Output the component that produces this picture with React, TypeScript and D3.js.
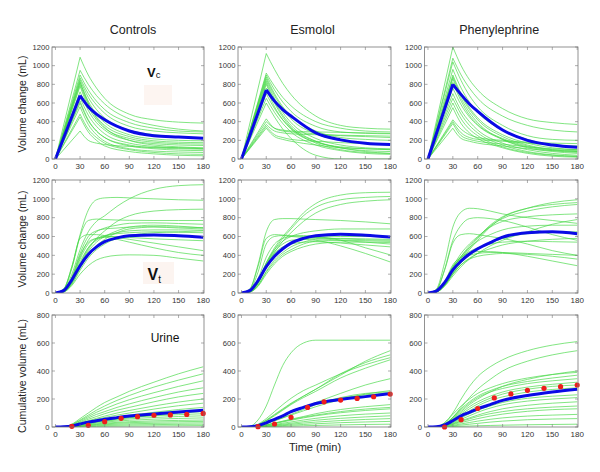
import React from "react";
import * as d3 from "d3";

// ---------- time grids ----------
const T_VC = [0, 30, 40, 50, 60, 90, 120, 150, 180];
const T_S = [0, 10, 20, 30, 40, 50, 60, 75, 90, 120, 150, 180];
const URINE_T = [20, 40, 60, 80, 100, 120, 140, 160, 180];

const COL_TITLES = ["Controls", "Esmolol", "Phenylephrine"];
const X_TICKS = [0, 30, 60, 90, 120, 150, 180];
const Y_TICKS_V = [0, 200, 400, 600, 800, 1000, 1200];
const Y_TICKS_U = [0, 200, 400, 600, 800];

// ---------- Row 1: Vc ----------
const ctrlVcMean = [0, 680, 560, 480, 420, 300, 250, 235, 222];
const ctrlVc = [
  [0, 1090, 900, 760, 650, 480, 420, 395, 385],
  [0, 950, 800, 680, 590, 430, 360, 320, 300],
  [0, 900, 740, 620, 530, 390, 330, 300, 290],
  [0, 870, 700, 580, 490, 350, 300, 280, 270],
  [0, 850, 660, 530, 440, 310, 260, 235, 225],
  [0, 820, 620, 480, 390, 260, 215, 200, 195],
  [0, 800, 590, 450, 360, 240, 195, 180, 175],
  [0, 780, 560, 420, 330, 220, 180, 165, 160],
  [0, 720, 520, 390, 310, 200, 165, 150, 145],
  [0, 660, 470, 350, 270, 170, 135, 120, 110],
  [0, 600, 410, 300, 230, 140, 110, 95, 90],
  [0, 560, 370, 260, 190, 110, 85, 75, 70],
  [0, 480, 320, 230, 170, 100, 70, 55, 50],
  [0, 450, 290, 200, 140, 80, 55, 40, 35],
  [0, 300, 200, 170, 155, 135, 125, 120, 115],
  [0, 620, 420, 300, 230, 150, 120, 110, 105],
  [0, 830, 600, 440, 340, 200, 150, 130, 120],
];
const esmoVcMean = [0, 740, 620, 530, 460, 280, 205, 170, 155];
const esmoVc = [
  [0, 1130, 960, 810, 690, 460, 360, 330, 320],
  [0, 920, 780, 660, 570, 400, 330, 300, 290],
  [0, 900, 740, 610, 510, 350, 290, 275, 270],
  [0, 880, 700, 560, 460, 300, 230, 210, 200],
  [0, 860, 680, 540, 430, 270, 200, 170, 160],
  [0, 840, 650, 500, 390, 220, 150, 120, 110],
  [0, 820, 620, 470, 360, 190, 120, 90, 80],
  [0, 800, 600, 450, 340, 170, 100, 70, 60],
  [0, 700, 540, 420, 330, 190, 120, 80, 60],
  [0, 650, 500, 380, 290, 150, 90, 60, 50],
  [0, 600, 450, 320, 220, 40, 0, 0, 0],
  [0, 430, 330, 300, 290, 270, 250, 240, 230],
  [0, 400, 330, 310, 300, 290, 285, 280, 275],
  [0, 370, 300, 280, 270, 260, 255, 250, 245],
  [0, 350, 260, 230, 210, 190, 175, 165, 160],
  [0, 330, 240, 210, 190, 150, 120, 110, 100],
  [0, 760, 560, 420, 320, 180, 130, 110, 100],
];
const pheVcMean = [0, 800, 690, 590, 510, 310, 200, 150, 125];
const pheVc = [
  [0, 1200, 1000, 850, 740, 540, 430, 390, 370],
  [0, 1080, 900, 760, 650, 460, 360, 310, 290],
  [0, 1040, 840, 680, 560, 360, 250, 210, 200],
  [0, 960, 760, 610, 500, 310, 210, 150, 130],
  [0, 900, 700, 550, 440, 260, 170, 120, 100],
  [0, 880, 680, 530, 420, 240, 150, 100, 80],
  [0, 860, 650, 500, 390, 210, 120, 80, 60],
  [0, 760, 580, 450, 360, 210, 130, 90, 70],
  [0, 700, 520, 400, 310, 170, 100, 60, 40],
  [0, 650, 480, 360, 280, 150, 80, 45, 30],
  [0, 600, 430, 320, 250, 130, 70, 40, 25],
  [0, 550, 380, 280, 220, 120, 60, 30, 20],
  [0, 420, 320, 260, 230, 200, 180, 170, 165],
  [0, 400, 280, 230, 210, 190, 170, 150, 140],
  [0, 380, 250, 210, 190, 160, 130, 110, 100],
  [0, 330, 220, 190, 170, 140, 110, 90, 80],
  [0, 820, 620, 470, 370, 220, 140, 100, 90],
];

// ---------- Row 2: Vt ----------
const ctrlVtMean = [0, 25, 140, 290, 410, 490, 545, 585, 607, 617, 608, 593];
const ctrlVt = [
  [0, 40, 280, 620, 880, 990, 1010, 1015, 1010, 1000, 990, 985],
  [0, 30, 200, 460, 650, 760, 820, 920, 1000, 1100, 1140, 1150],
  [0, 40, 260, 600, 770, 785, 780, 775, 772, 770, 770, 770],
  [0, 40, 280, 580, 620, 620, 610, 590, 570, 530, 490, 450],
  [0, 20, 120, 300, 460, 580, 660, 760, 820, 870, 885, 890],
  [0, 20, 150, 380, 560, 650, 690, 720, 740, 745, 738, 730],
  [0, 25, 170, 420, 600, 660, 680, 690, 700, 705, 700, 695],
  [0, 15, 110, 290, 440, 540, 600, 660, 700, 720, 710, 690],
  [0, 15, 100, 260, 400, 500, 570, 640, 680, 700, 690, 680],
  [0, 15, 110, 300, 480, 570, 610, 630, 640, 650, 645, 640],
  [0, 20, 140, 360, 520, 580, 600, 600, 590, 575, 565, 555],
  [0, 20, 160, 400, 540, 580, 590, 570, 540, 480, 430, 400],
  [0, 10, 80, 200, 290, 350, 380, 400, 405, 400, 370, 340],
  [0, 10, 90, 240, 370, 460, 520, 580, 610, 640, 650, 660],
  [0, 20, 130, 330, 480, 560, 600, 640, 660, 670, 670, 665],
];
const esmoVtMean = [0, 25, 130, 280, 390, 470, 530, 580, 607, 625, 614, 595];
const esmoVt = [
  [0, 15, 120, 320, 480, 600, 700, 850, 950, 1040, 1065, 1070],
  [0, 15, 110, 300, 460, 580, 680, 820, 910, 990, 1015, 1025],
  [0, 10, 100, 280, 430, 550, 640, 760, 850, 940, 975, 990],
  [0, 40, 300, 650, 780, 790, 790, 785, 780, 770, 755, 735],
  [0, 40, 280, 580, 620, 615, 610, 600, 590, 575, 565, 560],
  [0, 30, 220, 520, 600, 610, 600, 590, 580, 560, 540, 520],
  [0, 20, 150, 380, 520, 580, 600, 610, 600, 560, 480, 405],
  [0, 15, 110, 300, 440, 520, 560, 570, 560, 500, 420, 330],
  [0, 15, 100, 270, 400, 480, 530, 570, 590, 600, 600, 600],
  [0, 10, 80, 230, 350, 430, 490, 540, 570, 580, 575, 570],
  [0, 10, 80, 220, 330, 410, 460, 520, 550, 560, 555, 548],
  [0, 10, 70, 200, 310, 390, 440, 490, 520, 540, 540, 535],
  [0, 15, 110, 290, 420, 490, 520, 540, 545, 530, 510, 490],
  [0, 15, 120, 320, 460, 550, 600, 640, 660, 680, 680, 680],
];
const pheVtMean = [0, 20, 110, 245, 340, 415, 470, 535, 593, 640, 650, 630];
const pheVt = [
  [0, 40, 320, 700, 860, 900, 895, 870, 840, 800, 770, 740],
  [0, 30, 250, 560, 720, 790, 800, 790, 770, 700, 620, 560],
  [0, 30, 240, 530, 620, 630, 620, 600, 580, 520, 450, 400],
  [0, 10, 80, 220, 350, 460, 560, 700, 800, 900, 960, 990],
  [0, 15, 100, 260, 390, 500, 590, 720, 810, 900, 940, 960],
  [0, 10, 90, 240, 370, 480, 580, 710, 790, 870, 915, 940],
  [0, 15, 110, 280, 420, 520, 600, 700, 760, 810, 830, 840],
  [0, 10, 70, 180, 280, 360, 420, 500, 560, 650, 730, 780],
  [0, 15, 100, 260, 390, 480, 550, 620, 670, 710, 720, 720],
  [0, 10, 80, 210, 320, 400, 460, 530, 580, 630, 645, 650],
  [0, 10, 80, 200, 300, 370, 420, 470, 510, 550, 570, 580],
  [0, 15, 110, 270, 380, 440, 480, 520, 540, 550, 545, 540],
  [0, 15, 110, 280, 360, 400, 420, 430, 430, 420, 410, 400],
  [0, 10, 80, 200, 300, 360, 390, 410, 420, 410, 390, 360],
  [0, 15, 120, 300, 380, 420, 440, 440, 430, 390, 340, 290],
];

// ---------- Row 3: Urine ----------
const ctrlUrMean = [0, 2, 8, 22, 35, 45, 55, 67, 78, 93, 107, 120];
const ctrlUrObs = [5, 12, 38, 62, 74, 84, 86, 90, 97];
const ctrlUr = [
  [0, 2, 20, 60, 100, 140, 175, 215, 255, 320, 380, 430],
  [0, 2, 18, 50, 85, 120, 150, 190, 225, 285, 335, 380],
  [0, 2, 15, 45, 75, 105, 130, 165, 195, 245, 290, 330],
  [0, 2, 12, 38, 65, 90, 110, 140, 165, 210, 250, 280],
  [0, 1, 10, 32, 55, 75, 95, 120, 140, 180, 215, 240],
  [0, 1, 8, 25, 45, 62, 78, 100, 118, 150, 178, 200],
  [0, 1, 8, 22, 40, 55, 68, 85, 100, 128, 152, 170],
  [0, 1, 6, 18, 32, 45, 56, 70, 83, 105, 125, 140],
  [0, 1, 5, 15, 26, 36, 45, 56, 66, 84, 98, 110],
  [0, 1, 6, 18, 30, 40, 50, 60, 68, 80, 88, 95],
  [0, 1, 5, 15, 25, 34, 42, 50, 58, 68, 75, 80],
  [0, 1, 4, 12, 20, 28, 35, 42, 48, 56, 61, 65],
  [0, 1, 3, 9, 16, 22, 28, 33, 38, 44, 47, 50],
  [0, 1, 3, 8, 13, 18, 22, 27, 31, 35, 38, 40],
  [0, 0, 2, 6, 10, 14, 17, 20, 23, 26, 28, 30],
  [0, 0, 1, 4, 7, 9, 11, 13, 15, 17, 19, 20],
  [0, 0, 1, 2, 3, 4, 5, 6, 7, 8, 9, 10],
];
const esmoUrMean = [0, 2, 10, 30, 55, 80, 110, 140, 168, 197, 217, 238];
const esmoUrObs = [2, 21, 69, 140, 180, 192, 204, 216, 235];
const esmoUr = [
  [0, 5, 50, 150, 300, 440, 530, 600, 620, 620, 620, 620],
  [0, 2, 15, 50, 90, 130, 170, 220, 270, 370, 470, 545],
  [0, 2, 15, 45, 85, 125, 165, 220, 270, 380, 460, 515],
  [0, 2, 20, 60, 110, 160, 205, 260, 300, 380, 445, 495],
  [0, 2, 15, 45, 80, 120, 160, 210, 255, 350, 420, 480],
  [0, 1, 10, 30, 55, 80, 105, 140, 175, 240, 300, 345],
  [0, 1, 8, 25, 45, 65, 85, 115, 145, 195, 235, 260],
  [0, 1, 8, 25, 45, 65, 90, 125, 160, 210, 240, 250],
  [0, 1, 10, 30, 55, 80, 105, 135, 165, 205, 230, 242],
  [0, 1, 5, 15, 28, 42, 56, 75, 95, 125, 145, 160],
  [0, 1, 5, 15, 28, 40, 52, 70, 85, 110, 128, 140],
  [0, 1, 5, 14, 25, 36, 48, 65, 80, 102, 118, 130],
  [0, 1, 4, 10, 18, 27, 36, 50, 62, 80, 92, 100],
  [0, 1, 3, 8, 14, 20, 27, 38, 48, 62, 72, 80],
  [0, 0, 2, 6, 10, 15, 20, 28, 35, 46, 54, 60],
  [0, 0, 1, 4, 7, 10, 13, 18, 23, 31, 36, 40],
  [0, 0, 1, 2, 3, 5, 6, 9, 11, 15, 18, 20],
];
const pheUrMean = [0, 2, 15, 45, 80, 105, 130, 160, 190, 225, 250, 270];
const pheUrObs = [0, 52, 132, 208, 236, 262, 276, 288, 300];
const pheUr = [
  [0, 3, 30, 100, 200, 290, 360, 430, 480, 545, 585, 610],
  [0, 2, 20, 70, 140, 210, 270, 340, 400, 470, 515, 545],
  [0, 2, 20, 60, 110, 160, 200, 250, 290, 340, 375, 400],
  [0, 3, 30, 90, 150, 200, 240, 280, 310, 350, 375, 390],
  [0, 2, 20, 70, 130, 180, 220, 260, 290, 325, 350, 370],
  [0, 2, 20, 65, 120, 170, 210, 250, 275, 310, 330, 345],
  [0, 2, 18, 55, 100, 145, 180, 220, 250, 285, 305, 320],
  [0, 2, 15, 50, 90, 130, 165, 205, 235, 270, 290, 300],
  [0, 2, 15, 45, 80, 115, 150, 190, 215, 250, 268, 280],
  [0, 1, 12, 35, 65, 95, 120, 150, 175, 205, 220, 230],
  [0, 1, 10, 30, 55, 80, 105, 135, 158, 185, 200, 210],
  [0, 1, 8, 25, 45, 65, 85, 110, 130, 155, 170, 180],
  [0, 1, 8, 22, 40, 58, 75, 95, 110, 130, 142, 150],
  [0, 1, 6, 18, 32, 46, 60, 78, 92, 112, 124, 130],
  [0, 1, 4, 12, 22, 32, 42, 55, 65, 78, 85, 90],
  [0, 0, 3, 8, 14, 20, 26, 35, 42, 52, 57, 60],
  [0, 0, 1, 3, 5, 7, 9, 11, 13, 16, 18, 20],
];

// ---------- layout ----------
const COLS = [
  { x0: 52, x1: 204 },
  { x0: 238, x1: 391 },
  { x0: 424.5, x1: 578 },
];
const ROWS = [
  { y0: 47, y1: 159, max: 1200 },
  { y0: 180, y1: 293, max: 1200 },
  { y0: 315, y1: 427, max: 800 },
];

const GREEN = "#45d845";
const BLUE = "#0a0ae6";
const RED = "#ee1c1c";
const FONT = "'Liberation Sans', Arial, Helvetica, sans-serif";

type PanelData = {
  kind: "vc" | "vt" | "ur";
  greens: number[][];
  mean: number[];
  obs?: number[];
};

const PANELS: PanelData[][] = [
  [
    { kind: "vc", greens: ctrlVc, mean: ctrlVcMean },
    { kind: "vc", greens: esmoVc, mean: esmoVcMean },
    { kind: "vc", greens: pheVc, mean: pheVcMean },
  ],
  [
    { kind: "vt", greens: ctrlVt, mean: ctrlVtMean },
    { kind: "vt", greens: esmoVt, mean: esmoVtMean },
    { kind: "vt", greens: pheVt, mean: pheVtMean },
  ],
  [
    { kind: "ur", greens: ctrlUr, mean: ctrlUrMean, obs: ctrlUrObs },
    { kind: "ur", greens: esmoUr, mean: esmoUrMean, obs: esmoUrObs },
    { kind: "ur", greens: pheUr, mean: pheUrMean, obs: pheUrObs },
  ],
];

function Panel({ r, c, d }: { r: number; c: number; d: PanelData }) {
  const col = COLS[c];
  const row = ROWS[r];
  const x = d3.scaleLinear().domain([-4.2, 181]).range([col.x0, col.x1]);
  const y = d3.scaleLinear().domain([0, row.max]).range([row.y1, row.y0]);
  const times = d.kind === "vc" ? T_VC : T_S;
  const mono = d3
    .line<[number, number]>()
    .x((p) => x(p[0]))
    .y((p) => y(p[1]))
    .curve(d3.curveMonotoneX);
  const lin = d3
    .line<[number, number]>()
    .x((p) => x(p[0]))
    .y((p) => y(p[1]));
  const makePath = (vals: number[]) => {
    const pts = vals.map((v, i) => [times[i], v] as [number, number]);
    if (d.kind === "vc") {
      return (lin(pts.slice(0, 2)) || "") + (mono(pts.slice(1)) || "");
    }
    return mono(pts) || "";
  };
  const yTicks = row.max === 1200 ? Y_TICKS_V : Y_TICKS_U;
  const clipId = `clip-${r}-${c}`;
  const tl = 3;
  return (
    <g>
      <defs>
        <clipPath id={clipId}>
          <rect x={col.x0} y={row.y0} width={col.x1 - col.x0} height={row.y1 - row.y0} />
        </clipPath>
      </defs>
      <rect x={col.x0} y={row.y0} width={col.x1 - col.x0} height={row.y1 - row.y0} fill="#fff" />
      <g clipPath={`url(#${clipId})`}>
        {d.greens.map((g, i) => (
          <path key={i} d={makePath(g)} fill="none" stroke={GREEN} strokeWidth={0.8} strokeOpacity={0.85} />
        ))}
        <path d={makePath(d.mean)} fill="none" stroke={BLUE} strokeWidth={3} strokeLinejoin="round" />
      </g>
      {d.obs &&
        d.obs.map((v, i) => (
          <circle key={i} cx={x(URINE_T[i])} cy={y(v)} r={2.6} fill={RED} />
        ))}
      <rect
        x={col.x0}
        y={row.y0}
        width={col.x1 - col.x0}
        height={row.y1 - row.y0}
        fill="none"
        stroke="#777"
        strokeWidth={0.8}
      />
      {X_TICKS.map((t) => (
        <g key={"x" + t}>
          <line x1={x(t)} x2={x(t)} y1={row.y1} y2={row.y1 - tl} stroke="#777" strokeWidth={0.6} />
          <line x1={x(t)} x2={x(t)} y1={row.y0} y2={row.y0 + tl} stroke="#777" strokeWidth={0.6} />
          <text
            x={x(t)}
            y={row.y1 + 9.5}
            fontSize={8}
            fontFamily={FONT}
            fill="#333"
            textAnchor="middle"
          >
            {t}
          </text>
        </g>
      ))}
      {yTicks.map((t) => (
        <g key={"y" + t}>
          <line x1={col.x0} x2={col.x0 + tl} y1={y(t)} y2={y(t)} stroke="#777" strokeWidth={0.6} />
          <line x1={col.x1} x2={col.x1 - tl} y1={y(t)} y2={y(t)} stroke="#777" strokeWidth={0.6} />
          <text
            x={col.x0 - 2.5}
            y={y(t) + 2.8}
            fontSize={7.6}
            fontFamily={FONT}
            fill="#333"
            textAnchor="end"
          >
            {t}
          </text>
        </g>
      ))}
    </g>
  );
}

export default function App() {
  return (
    <svg
      width={600}
      height={472}
      style={{ position: "absolute", left: 0, top: 0, background: "#fff" }}
    >
      <rect x={0} y={0} width={600} height={472} fill="#fff" />
      {COL_TITLES.map((t, c) => (
        <text
          key={t}
          x={(COLS[c].x0 + COLS[c].x1) / 2 + (c === 0 ? 5 : -2)}
          y={34}
          fontSize={12.5}
          fontFamily={FONT}
          fill="#222"
          textAnchor="middle"
        >
          {t}
        </text>
      ))}
      {PANELS.map((row, r) => row.map((d, c) => <Panel key={`${r}-${c}`} r={r} c={c} d={d} />))}
      {/* y axis labels */}
      <text
        transform="translate(26,104) rotate(-90)"
        fontSize={10.5}
        fontFamily={FONT}
        fill="#222"
        textAnchor="middle"
      >
        Volume change  (mL)
      </text>
      <text
        transform="translate(26,239) rotate(-90)"
        fontSize={10.5}
        fontFamily={FONT}
        fill="#222"
        textAnchor="middle"
      >
        Volume change (mL)
      </text>
      <text
        transform="translate(26,376) rotate(-90)"
        fontSize={10.5}
        fontFamily={FONT}
        fill="#222"
        textAnchor="middle"
      >
        Cumulative volume (mL)
      </text>
      <text x={315} y={451} fontSize={11} fontFamily={FONT} fill="#222" textAnchor="middle">
        Time (min)
      </text>
      {/* annotations */}
      <rect x={144} y={85} width={28} height={20} fill="#fdf5f1" />
      <text x={147} y={77.3} fontSize={13} fontWeight="bold" fontFamily={FONT} fill="#111">
        V
        <tspan fontSize={9.5} fontWeight="normal" dy={1}>c</tspan>
      </text>
      <rect x={143} y={262} width={31} height={22} fill="#fcf4f0" />
      <text x={147.5} y={280} fontSize={16} fontWeight="bold" fontFamily={FONT} fill="#111">
        V
        <tspan fontSize={10} fontWeight="normal" dy={3}>t</tspan>
      </text>
      <text x={165} y={342} fontSize={12} fontFamily={FONT} fill="#111" textAnchor="middle">
        Urine
      </text>
    </svg>
  );
}
